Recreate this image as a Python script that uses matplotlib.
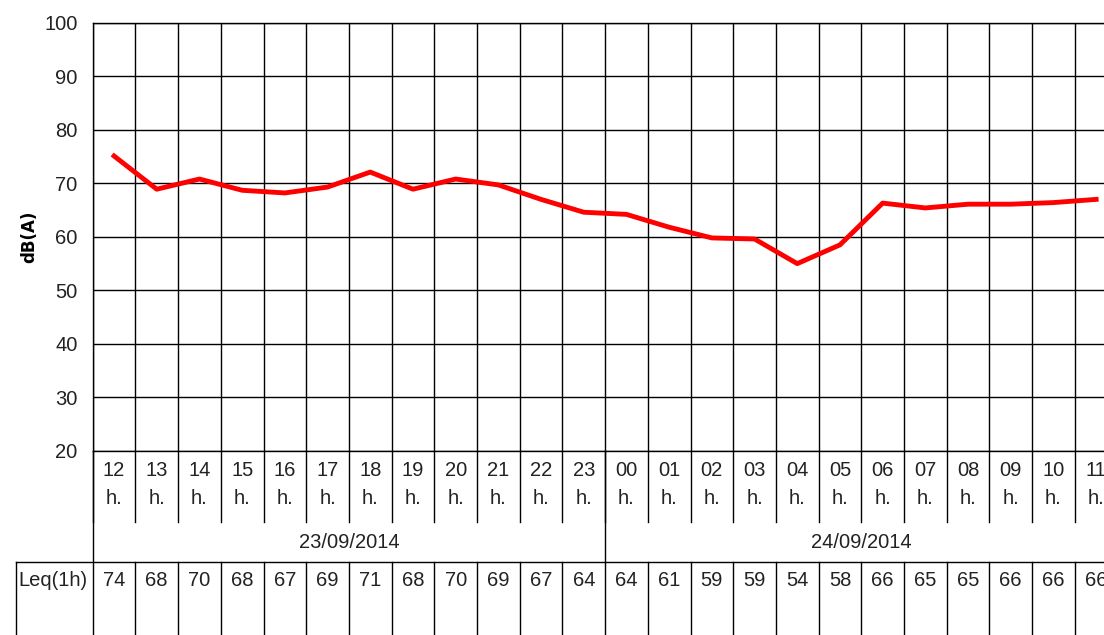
import matplotlib.pyplot as plt
import numpy as np

# Data
hours = ["12", "13", "14", "15", "16", "17", "18", "19", "20", "21", "22", "23",
         "00", "01", "02", "03", "04", "05", "06", "07", "08", "09", "10", "11"]
dates = ["23/09/2014", "24/09/2014"]
leq_plot = [75.1, 68.9, 70.8, 68.7, 68.2, 69.3, 72.1, 68.9, 70.8, 69.7, 67.0, 64.6,
            64.2, 61.8, 59.8, 59.6, 55.0, 58.5, 66.3, 65.4, 66.1, 66.1, 66.4, 67.0]
leq_table = [74, 68, 70, 68, 67, 69, 71, 68, 70, 69, 67, 64,
             64, 61, 59, 59, 54, 58, 66, 65, 65, 66, 66, 66]

FONT = ["Liberation Sans", "DejaVu Sans"]
TXT = "#222222"
W, H = 1104, 635
x0, col_w = 92.7, 42.7          # left edge of plot, column width (px)
y_top, y_bot = 22.7, 451.0      # y=100 and y=20 (px from top)

fig = plt.figure(figsize=(W / 100, H / 100), dpi=100)
ax_w = len(hours) * col_w / W
ax = fig.add_axes([x0 / W, 1 - y_bot / H, ax_w, (y_bot - y_top) / H])

x = np.arange(len(hours))
ax.plot(x, leq_plot, color="#ff0000", lw=3.5, solid_joinstyle="round", zorder=3)

ax.set_xlim(-0.5, len(hours) - 0.5)
ax.set_ylim(20, 100)
ax.set_yticks(np.arange(20, 101, 10))
ax.set_xticks(np.arange(-0.5, len(hours), 1.0))
ax.tick_params(axis="x", length=0, labelbottom=False)
ax.tick_params(axis="y", length=0, pad=11, labelsize=14.5)
for lab in ax.get_yticklabels():
    lab.set_fontfamily(FONT)
    lab.set_color(TXT)
ax.grid(True, color="black", lw=1.0)
for s in ax.spines.values():
    s.set_color("black")
    s.set_linewidth(1.0)
ax.set_ylabel("dB(A)", fontsize=12, fontweight="bold", labelpad=4)

# Table below the chart: x in column units, y in pixels from top
tb = fig.add_axes([x0 / W, 0, ax_w, 1 - y_bot / H])
tb.set_xlim(-0.5, len(hours) - 0.5)
tb.set_ylim(H, y_bot)
tb.axis("off")

def px2col(px):
    return (px - x0) / col_w - 0.5

line_kw = dict(color="black", lw=1.0, clip_on=False)
row1_bot, row2_bot = 521.5, 562.3
split = hours.index("00") - 0.5

# hour row
for i, h in enumerate(hours):
    tb.text(i, 470, h, ha="center", va="center", fontsize=14.5,
            fontfamily=FONT, color=TXT)
    tb.text(i, 499, "h.", ha="center", va="center", fontsize=14.5,
            fontfamily=FONT, color=TXT)
    tb.plot([i - 0.5, i - 0.5], [y_bot, row1_bot], **line_kw)
tb.plot([split, split], [y_bot, row2_bot], **line_kw)

# date row
tb.text((-0.5 + split) / 2, 543, dates[0], ha="center", va="center",
        fontsize=14.5, fontfamily=FONT, color=TXT)
tb.text((split + len(hours) - 0.5) / 2, 543, dates[1], ha="center", va="center",
        fontsize=14.5, fontfamily=FONT, color=TXT)
tb.plot([-0.5, -0.5], [y_bot, H], **line_kw)

# Leq row
left = px2col(16)
tb.plot([left, len(hours) - 0.5], [row2_bot, row2_bot], **line_kw)
tb.plot([left, left], [row2_bot, H], **line_kw)
tb.text(px2col(18), 581, "Leq(1h)", ha="left", va="center", fontsize=14.5,
        fontfamily=FONT, color=TXT)
for i, v in enumerate(leq_table):
    tb.text(i, 581, str(v), ha="center", va="center", fontsize=14.5,
            fontfamily=FONT, color=TXT)
    if i > 0:
        tb.plot([i - 0.5, i - 0.5], [row2_bot, H], **line_kw)

fig.savefig("out.png", dpi=100)
